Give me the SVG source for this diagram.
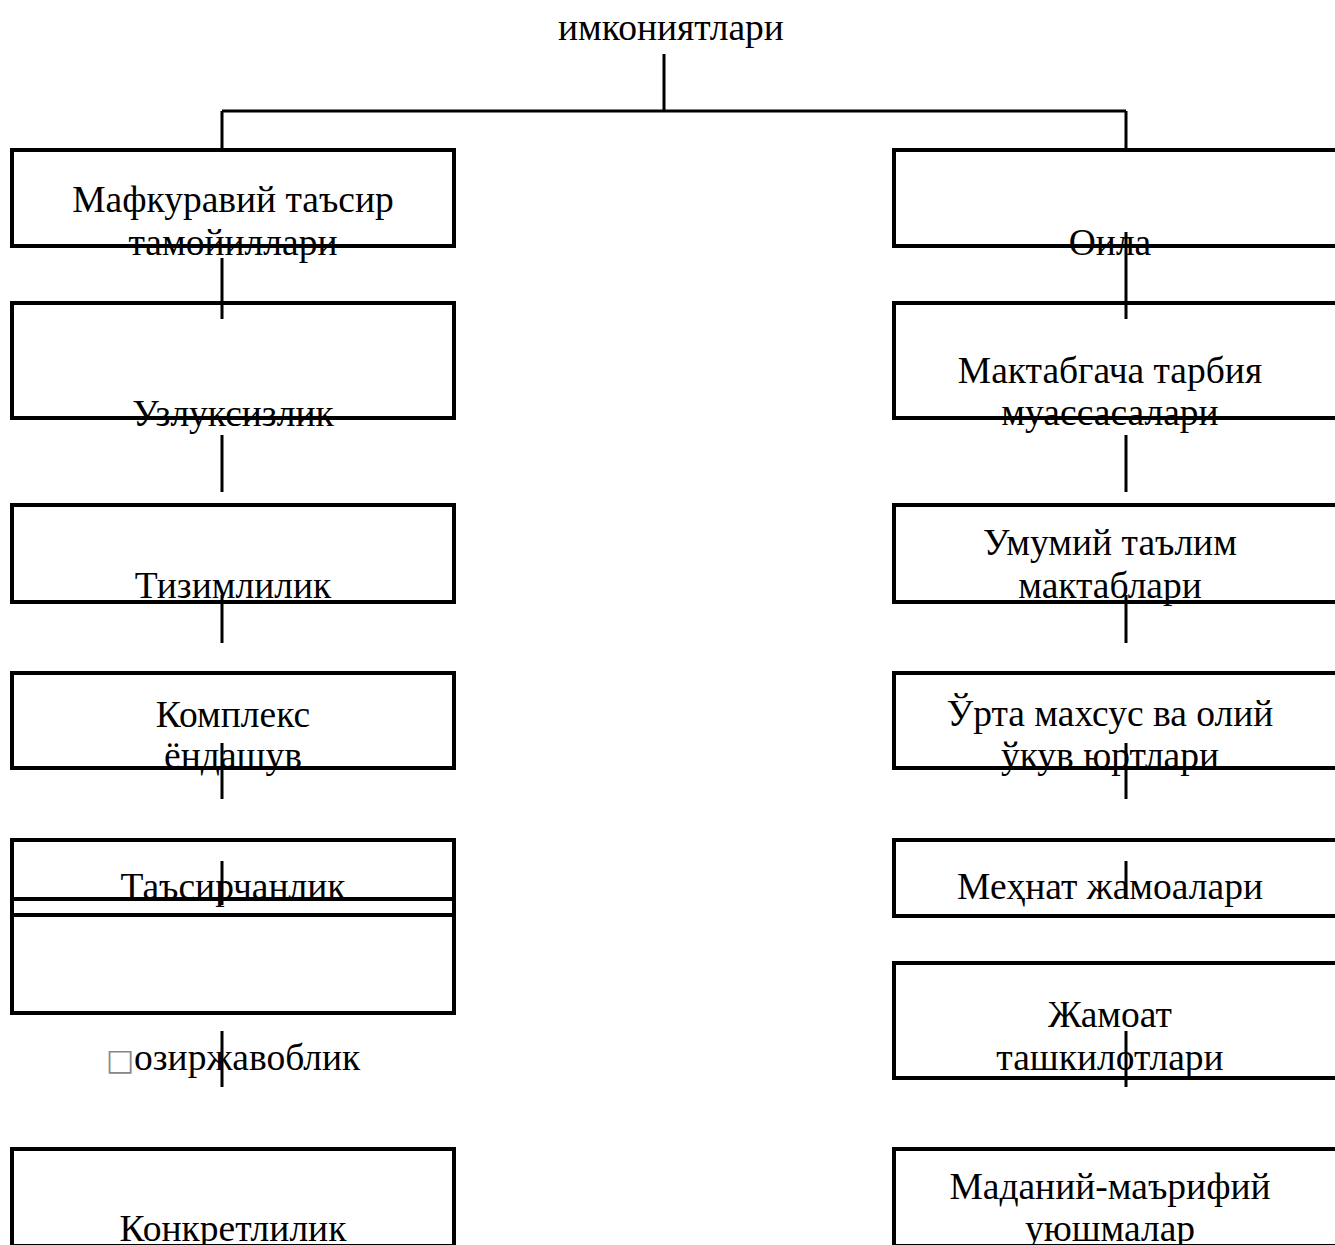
<svg xmlns="http://www.w3.org/2000/svg" width="1335" height="1245" viewBox="0 0 1335 1245">
<style>
.box{fill:none;stroke:#000;stroke-width:4}
.ln{stroke:#000;stroke-width:3;fill:none}
text{font-family:"Liberation Serif","Times New Roman",serif;font-size:37.5px;fill:#000;text-anchor:middle}
.miss{font-family:"DejaVu Sans",sans-serif;fill:#888;font-size:30px}
</style>
<rect width="1335" height="1245" fill="#fff"/>
<g id="title"><text x="671" y="40">имкониятлари</text></g>
<g id="L1"><rect class="box" x="12" y="150" width="442" height="96"/><text x="233" y="212">Мафкуравий таъсир</text><text x="233" y="255">тамойиллари</text></g>
<g id="L2"><rect class="box" x="12" y="303" width="442" height="115"/><text x="233" y="426">Узлуксизлик</text></g>
<g id="L3"><rect class="box" x="12" y="505" width="442" height="97"/><text x="233" y="598">Тизимлилик</text></g>
<g id="L4"><rect class="box" x="12" y="673" width="442" height="95"/><text x="233" y="727">Комплекс</text><text x="233" y="768">ёндашув</text></g>
<g id="L5"><rect class="box" x="12" y="840" width="442" height="75"/><text x="233" y="899">Таъсирчанлик</text></g>
<g id="L6"><rect class="box" x="12" y="899" width="442" height="114"/><text x="233" y="1070"><tspan class="miss">□</tspan>озиржавоблик</text></g>
<g id="L7"><rect class="box" x="12" y="1149" width="442" height="97"/><text x="233" y="1241">Конкретлилик</text></g>
<g id="R1"><rect class="box" x="894" y="150" width="443" height="96"/><text x="1110" y="255">Оила</text></g>
<g id="R2"><rect class="box" x="894" y="303" width="443" height="115"/><text x="1110" y="383">Мактабгача тарбия</text><text x="1110" y="425">муассасалари</text></g>
<g id="R3"><rect class="box" x="894" y="505" width="443" height="97"/><text x="1110" y="555">Умумий таълим</text><text x="1110" y="598">мактаблари</text></g>
<g id="R4"><rect class="box" x="894" y="673" width="443" height="95"/><text x="1110" y="726">Ўрта махсус ва олий</text><text x="1110" y="768">ўкув юртлари</text></g>
<g id="R5"><rect class="box" x="894" y="840" width="443" height="76"/><text x="1110" y="899">Меҳнат жамоалари</text></g>
<g id="R6"><rect class="box" x="894" y="963" width="443" height="115"/><text x="1110" y="1027">Жамоат</text><text x="1110" y="1070">ташкилотлари</text></g>
<g id="R7"><rect class="box" x="894" y="1149" width="443" height="97"/><text x="1110" y="1199">Маданий-маърифий</text><text x="1110" y="1241">уюшмалар</text></g>
<g id="connectors" class="ln">
<path d="M664 54V111M222 111H1126M222 111V150M1126 111V150"/>
<path d="M222 258V319M222 435V492M222 595V643M222 743V799M222 861V905M222 1031V1087"/>
<path d="M1126 232V319M1126 435V492M1126 595V643M1126 743V799M1126 861V899M1126 1031V1087"/>
</g>
</svg>
